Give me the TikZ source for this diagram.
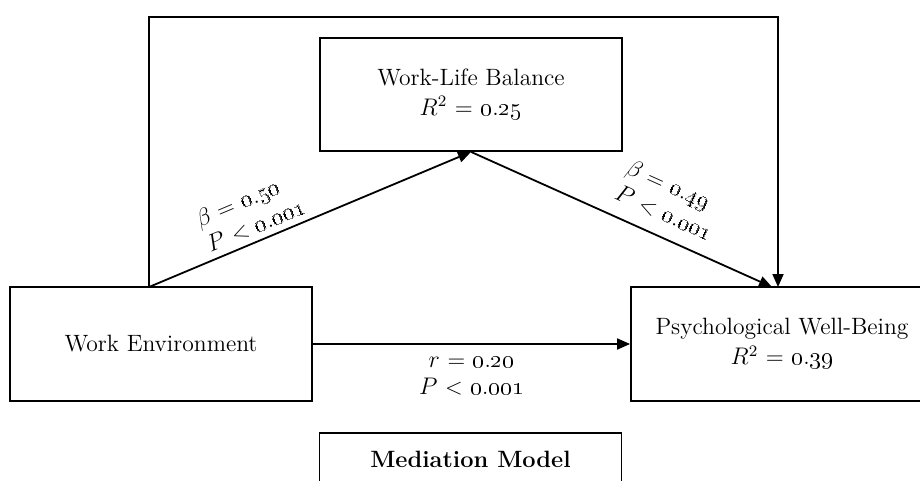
\documentclass[tikz,border=0pt]{standalone}
\usetikzlibrary{arrows.meta}
\newcommand\onum[2]{\oldstylenums{#1}.\oldstylenums{#2}}
\begin{document}
\begin{tikzpicture}[x=0.5pt,y=-0.5pt,
  box/.style={draw, line width=0.9pt, rectangle, align=center, inner sep=0pt,
    minimum width=151pt, minimum height=57pt, font=\fontsize{11.8}{15}\selectfont},
  arr/.style={line width=0.9pt, -{Triangle[length=6.5pt,width=5.5pt]}},
  lbl/.style={align=left, inner sep=1pt, font=\fontsize{11.6}{14}\selectfont},
  hlbl/.style={align=center, inner sep=2pt, font=\fontsize{11.6}{13.5}\selectfont}]
\clip (0,0) rectangle (920,481);
\fill[white] (0,0) rectangle (920,481);
\node[box, minimum height=56.5pt] (wlb) at (471,94.5) {Work-Life Balance\\$R^2$ = \onum{0}{25}};
\node[box] (we) at (161,344) {Work Environment};
\node[box] (pwb) at (782,344) {Psychological Well-Being\\$R^2$ = \onum{0}{39}};
\node[box, minimum height=26pt, font=\fontsize{11.8}{15}\selectfont\bfseries] (cap) at (470.5,459) {Mediation Model};
\coordinate (s) at (149,287);
\coordinate (tl) at (149,17);
\coordinate (tr) at (778,17);
\coordinate (tb) at (778,287);
\coordinate (e2) at (772,287);
\draw[arr] (s) -- (tl) -- (tr) -- (tb);
\draw[arr] (s) -- (wlb.south) node[lbl, pos=0.35, above=2pt, sloped] {$\beta$ = \onum{0}{50}\\$P$ < \onum{0}{001}};
\draw[arr] (wlb.south) -- (e2) node[lbl, pos=0.61, above=6pt, sloped] {$\beta$ = \onum{0}{49}\\$P$ < \onum{0}{001}};
\draw[arr] (we.east) -- (pwb.west) node[hlbl, midway, below=4pt] {$r$ = \onum{0}{20}\\$P$ < \onum{0}{001}};
\end{tikzpicture}
\end{document}
